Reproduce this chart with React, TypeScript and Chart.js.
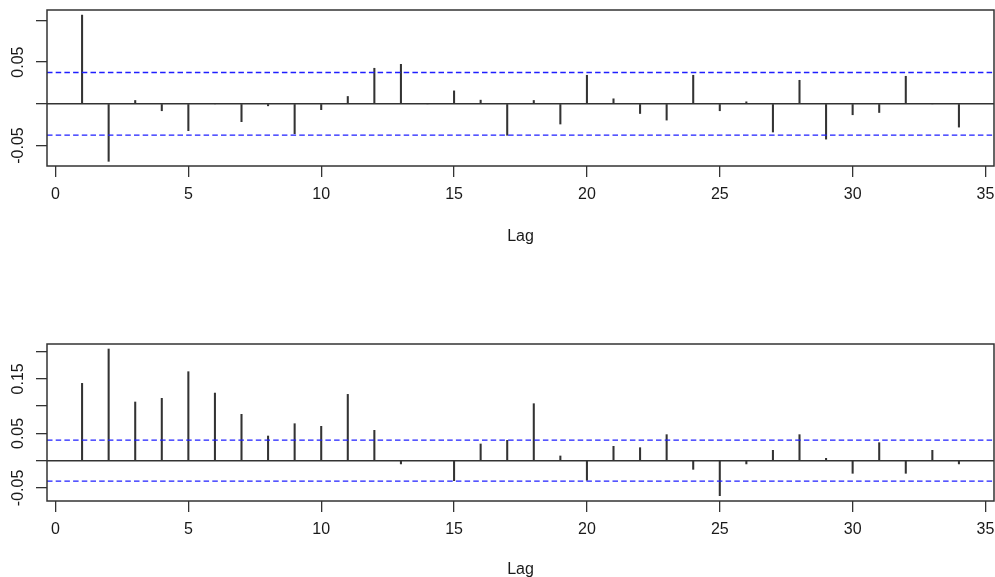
import React, { useEffect, useRef } from "react";
import { Chart, registerables } from "chart.js";
Chart.register(...registerables);

// ---- data ----
const lags = [1, 2, 3, 4, 5, 6, 7, 8, 9, 10, 11, 12, 13, 14, 15, 16, 17, 18, 19, 20, 21, 22, 23, 24, 25, 26, 27, 28, 29, 30, 31, 32, 33, 34];
const acfTop = [0.1063, -0.0689, 0.004, -0.0083, -0.0322, 0, -0.0214, -0.0024, -0.0358, -0.007, 0.0088, 0.0426, 0.0473, 0, 0.0155, 0.0044, -0.0377, 0.004, -0.0242, 0.0342, 0.006, -0.0116, -0.0195, 0.0342, -0.0083, 0.0024, -0.0338, 0.0282, -0.0423, -0.0131, -0.0104, 0.033, 0, -0.0279];
const acfBottom = [0.1418, 0.2048, 0.1076, 0.1143, 0.1632, 0.124, 0.085, 0.0452, 0.0678, 0.063, 0.1216, 0.0556, -0.006, 0, -0.0367, 0.0306, 0.0373, 0.1045, 0.0086, -0.036, 0.0263, 0.0238, 0.0477, -0.0159, -0.0642, -0.006, 0.019, 0.0477, 0.0043, -0.0232, 0.033, -0.0232, 0.019, -0.006];
const climTop = 0.0375;
const climBottom = 0.0375;
const xTicks = [0, 5, 10, 15, 20, 25, 30, 35];
const xTickLabels = ["0", "5", "10", "15", "20", "25", "30", "35"];
const yTicksTop = [-0.05, 0, 0.05, 0.1];
const yTickLabelsTop = ["-0.05", "", "0.05", ""];
const yTicksBottom = [-0.05, 0, 0.05, 0.1, 0.15, 0.2];
const yTickLabelsBottom = ["-0.05", "", "0.05", "", "0.15", ""];
const xLimits = [-0.32, 35.32];
const yLimitsTop = [-0.0745, 0.1124];
const yLimitsBottom = [-0.074, 0.214];
const axisTitle = "Lag";

const FONT = '"Liberation Sans", Arial, Helvetica, sans-serif';
const INK = "#1a1a1a";
const LINE = "#333";

function makePanel(
  canvas: HTMLCanvasElement,
  values: number[],
  clim: number,
  yTicks: number[],
  yLabels: string[],
  yLim: number[],
  padTop: number,
  xHeight: number,
  titlePadBottom: number
) {
  const framePlugin = {
    id: "frameAndYLabels",
    afterDraw(chart: any) {
      const { ctx, chartArea: a, scales } = chart;
      ctx.save();
      ctx.strokeStyle = LINE;
      ctx.lineWidth = 1.5;
      ctx.strokeRect(a.left, a.top, a.right - a.left, a.bottom - a.top);
      ctx.fillStyle = INK;
      ctx.font = "16px " + FONT;
      ctx.textAlign = "center";
      ctx.textBaseline = "middle";
      yTicks.forEach((v, i) => {
        const lab = yLabels[i];
        if (!lab) return;
        const y = scales.y.getPixelForValue(v);
        ctx.save();
        ctx.translate(19, y);
        ctx.rotate(-Math.PI / 2);
        ctx.fillText(lab, 0, 0);
        ctx.restore();
      });
      ctx.restore();
    },
  };

  return new Chart(canvas, {
    type: "bar",
    data: {
      datasets: [
        {
          type: "line",
          data: [{ x: xLimits[0], y: clim }, { x: xLimits[1], y: clim }],
          borderColor: "#1f1fff",
          borderWidth: 1.3,
          borderDash: [5.5, 3.2],
          pointRadius: 0,
          fill: false,
        } as any,
        {
          type: "line",
          data: [{ x: xLimits[0], y: -clim }, { x: xLimits[1], y: -clim }],
          borderColor: "#1f1fff",
          borderWidth: 1.3,
          borderDash: [5.5, 3.2],
          pointRadius: 0,
          fill: false,
        } as any,
        {
          type: "line",
          data: [{ x: xLimits[0], y: 0 }, { x: xLimits[1], y: 0 }],
          borderColor: LINE,
          borderWidth: 1.5,
          pointRadius: 0,
          fill: false,
        } as any,
        {
          type: "bar",
          data: lags.map((l, i) => ({ x: l, y: values[i] })),
          backgroundColor: LINE,
          borderWidth: 0,
          barThickness: 1.4,
        } as any,
      ],
    },
    options: {
      responsive: false,
      animation: false,
      events: [],
      layout: { padding: { top: padTop, left: 0, right: 1, bottom: 0 } },
      plugins: { legend: { display: false }, tooltip: { enabled: false } },
      scales: {
        x: {
          type: "linear",
          min: xLimits[0],
          max: xLimits[1],
          offset: false,
          afterBuildTicks: (s: any) => {
            s.ticks = xTicks.map((v) => ({ value: v }));
          },
          afterFit: (s: any) => {
            s.height = xHeight;
            s.paddingLeft = 0;
            s.paddingRight = 0;
          },
          grid: {
            display: true,
            drawOnChartArea: false,
            drawTicks: true,
            tickLength: 11,
            color: LINE,
            lineWidth: 1.3,
            offset: false,
          },
          border: { display: false },
          ticks: {
            autoSkip: false,
            maxRotation: 0,
            minRotation: 0,
            padding: 8,
            color: INK,
            font: { size: 16, family: FONT },
            callback: (v: any) => {
              const i = xTicks.indexOf(Number(v));
              return i >= 0 ? xTickLabels[i] : "";
            },
          },
          title: {
            display: true,
            text: axisTitle,
            color: INK,
            font: { size: 16, family: FONT },
            padding: { top: 0, bottom: titlePadBottom },
          },
        },
        y: {
          type: "linear",
          min: yLim[0],
          max: yLim[1],
          afterBuildTicks: (s: any) => {
            s.ticks = yTicks.map((v) => ({ value: v }));
          },
          afterFit: (s: any) => {
            s.width = 47;
            s.paddingTop = 0;
            s.paddingBottom = 0;
          },
          grid: {
            display: true,
            drawOnChartArea: false,
            drawTicks: true,
            tickLength: 11,
            color: LINE,
            lineWidth: 1.3,
          },
          border: { display: false },
          ticks: { display: false },
        },
      },
    } as any,
    plugins: [framePlugin],
  });
}

export default function App() {
  const topRef = useRef<HTMLCanvasElement>(null);
  const botRef = useRef<HTMLCanvasElement>(null);

  useEffect(() => {
    const c1 = makePanel(topRef.current!, acfTop, climTop, yTicksTop, yTickLabelsTop, yLimitsTop, 10, 124, 44);
    const c2 = makePanel(botRef.current!, acfBottom, climBottom, yTicksBottom, yTickLabelsBottom, yLimitsBottom, 54, 89, 11);
    return () => {
      c1.destroy();
      c2.destroy();
    };
  }, []);

  return (
    <div style={{ position: "fixed", left: 0, top: 0, width: 995, height: 577, overflow: "hidden", background: "#fff" }}>
      <canvas ref={topRef} width={995} height={290} style={{ position: "absolute", left: 0, top: 0, width: 995, height: 290 }} />
      <canvas ref={botRef} width={995} height={300} style={{ position: "absolute", left: 0, top: 290, width: 995, height: 300 }} />
    </div>
  );
}
